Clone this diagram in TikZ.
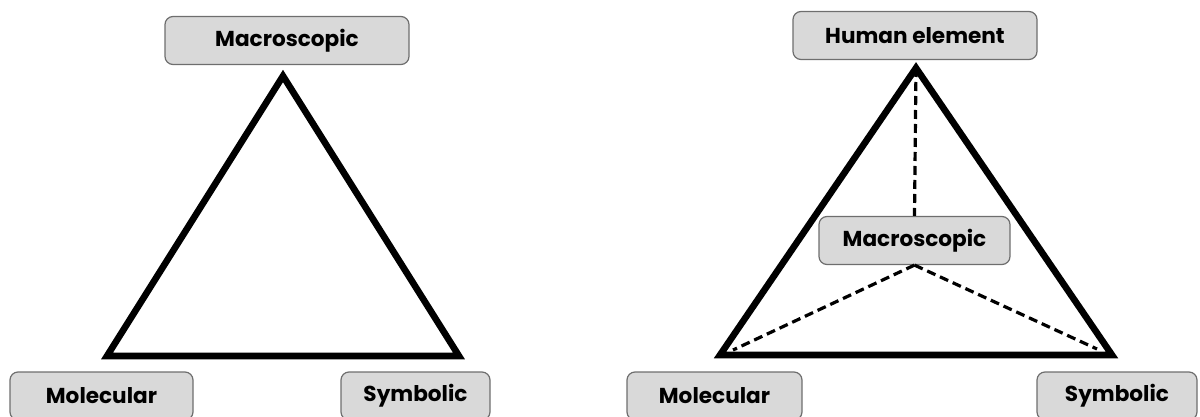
\documentclass[tikz,border=0pt]{standalone}
\usepackage{fontspec}
\setmainfont{Poppins}
\usepackage{xcolor}
\usetikzlibrary{positioning, calc}
\definecolor{boxfill}{HTML}{D9D9D9}
\definecolor{boxline}{HTML}{6E6E6E}

\begin{document}
\begin{tikzpicture}[x=0.5pt, y=-0.5pt,
  label box/.style={draw=boxline, line width=0.6pt, fill=boxfill, rounded corners=4pt,
                    inner sep=0pt, minimum height=24pt, font=\bfseries\fontsize{10.8}{12}\selectfont},
  side/.style={line width=3.3pt, line join=miter},
  link/.style={line width=1.6pt, dash pattern=on 4.5pt off 2.5pt}]
\useasboundingbox (0,0) rectangle (1200,417);
\clip (0,0) rectangle (1200,417);
% Left triangle
\coordinate (topL) at (283,76);
\coordinate (molL) at (107,356);
\coordinate (symL) at (459,356);
\draw[side] (topL) -- (molL) -- (symL) -- cycle;
\node[label box, minimum width=122pt] (macroL) at (287,40.5) {Macroscopic};
\node[label box, minimum width=91.5pt] (molecL) at (101.5,396) {Molecular};
\node[label box, minimum width=74.5pt] (symbL) at (415.5,396) {Symbolic};
% Right triangle
\coordinate (topR) at (916,68);
\coordinate (molR) at (720,355);
\coordinate (symR) at (1112,355);
\draw[side] (topR) -- (molR) -- (symR) -- cycle;
\node[label box, minimum width=122pt] (human) at (915,35.5) {Human element};
\node[label box, minimum width=95.5pt] (macroR) at (914.5,240.5) {Macroscopic};
\node[label box, minimum width=87.5pt] (molecR) at (714.5,396) {Molecular};
\node[label box, minimum width=80pt] (symbR) at (1117,396) {Symbolic};
% Dashed links to the inner node
\coordinate (molR') at (733,350);
\coordinate (symR') at (1097,349);
\draw[link] (topR) -- (macroR.north);
\draw[link] (macroR.south) -- (molR');
\draw[link] (macroR.south) -- (symR');
\end{tikzpicture}
\end{document}
